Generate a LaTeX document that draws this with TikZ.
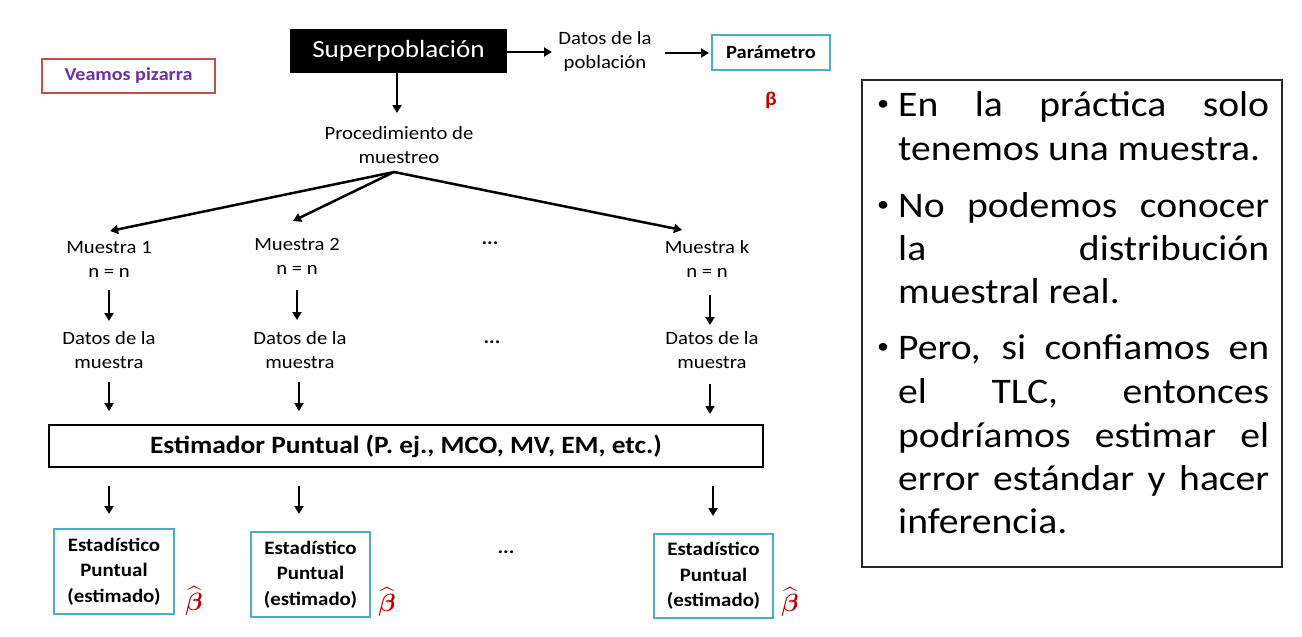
\RequirePackage{fix-cm}
\documentclass[tikz,border=0pt]{standalone}
\usepackage{amsmath}
\usepackage{fontspec}
\setmainfont{Carlito}[FakeStretch=1.1]
\usetikzlibrary{arrows.meta,calc}
\definecolor{cyanb}{HTML}{4BACC6}
\definecolor{redb}{HTML}{C0504D}
\definecolor{purp}{HTML}{7030A0}
\definecolor{redt}{HTML}{C00000}
\begin{document}
\begin{tikzpicture}[x=1pt,y=-1pt,
  arr/.style={line width=2.5pt,-{Triangle[length=8pt,width=9pt]}},
  sm/.style={inner sep=0pt,align=center,font=\fontsize{18.8}{24}\selectfont},
  dts/.style={inner sep=0pt,font=\bfseries\fontsize{19}{24}\selectfont},
  cbox/.style={draw=cyanb,line width=2pt,inner sep=0pt,align=center,font=\bfseries\fontsize{19}{25.5}\selectfont,minimum width=119pt,minimum height=85pt},
  hat/.style={text=redt,inner sep=0pt,font=\fontsize{25}{28}\selectfont},
  rt/.style={anchor=base west,inner sep=0pt,font=\fontsize{36}{43}\selectfont},
  bul/.style={anchor=base west,inner sep=0pt,font=\fontsize{22}{26}\selectfont}]
\fill[white] (0,0) rectangle (1302,637);
\useasboundingbox (0,0) rectangle (1302,637);

% top row
\node[fill=black,minimum width=217pt,minimum height=44pt,inner sep=0pt,text=white,font=\fontsize{24.7}{28}\selectfont] (sup) at (398.5,51) {Superpoblación};
\node[sm] (dpop) at (605,51.5) {\strut Datos de la\\\strut población};
\node[draw=cyanb,line width=2pt,minimum width=118pt,minimum height=35pt,inner sep=0pt,font=\bfseries\fontsize{18.7}{21}\selectfont] (par) at (771,52.5) {Parámetro};
\node[text=redt,inner sep=0pt,font=\bfseries\fontsize{19.5}{21}\selectfont] (bpar) at (771,100) {β};
\node[draw=redb,line width=2pt,minimum width=173pt,minimum height=34pt,inner sep=0pt,text=purp,font=\bfseries\fontsize{18.3}{21}\selectfont] (vea) at (128.5,76) {Veamos pizarra};
\node[sm] (proc) at (399,147) {\strut Procedimiento de\\\strut muestreo};
\coordinate (apex) at (394,172);

\draw[arr] ($(sup.east)+(0,1)$) -- ($(dpop.center)+(-53,0.5)$);
\draw[arr] ($(dpop.center)+(60,1.5)$) -- ($(par.west)+(-2,0.5)$);
\draw[arr] ($(sup.south)+(-1.5,0)$) -- ($(proc.center)+(-2,-34)$);

% samples
\node[sm] (mu1) at (109,260.5) {\strut Muestra 1\\\strut n = n};
\node[sm] (mu2) at (297,257.5) {\strut Muestra 2\\\strut n = n};
\node[dts] (dots1) at (490,243) {...};
\node[sm] (muk) at (707,261) {\strut Muestra k\\\strut n = n};

\draw[arr] (apex) -- ($(mu1.center)+(1,-29.5)$);
\draw[arr] (apex) -- ($(mu2.center)+(-4,-36.5)$);
\draw[arr] (apex) -- ($(muk.center)+(-25,-31)$);

\node[sm] (dm1) at (109,352) {\strut Datos de la\\\strut muestra};
\node[sm] (dm2) at (300,352) {\strut Datos de la\\\strut muestra};
\node[dts] (dots2) at (492,342) {...};
\node[sm] (dmk) at (712,352) {\strut Datos de la\\\strut muestra};

\draw[arr] ($(mu1.center)+(0,29.5)$) -- ($(dm1.center)+(0,-31)$);
\draw[arr] ($(mu2.center)+(0,32.5)$) -- ($(dm2.center)+(-3,-32)$);
\draw[arr] ($(muk.center)+(3,34)$) -- ($(dmk.center)+(-2,-27)$);

\node[draw,line width=2pt,minimum width=714pt,minimum height=42pt,inner sep=0pt,font=\bfseries\fontsize{24.9}{28}\selectfont] (est) at (406,446) {Estimador Puntual (P. ej., MCO, MV, EM, etc.)};

\draw[arr] ($(dm1.center)+(0,30)$) -- ($(dm1.center |- est.north)+(0,-13)$);
\draw[arr] ($(dm2.center)+(-1,30)$) -- ($(dm2.center |- est.north)+(-1,-13)$);
\draw[arr] ($(dmk.center)+(-2,32)$) -- ($(dmk.center |- est.north)+(-2,-10)$);

% estimates
\node[cbox,minimum width=120pt] (box1) at (114,571.5) {\strut Estadístico\\Puntual\\(estimado)\strut};
\node[cbox] (box2) at (310.5,574.5) {\strut Estadístico\\Puntual\\(estimado)\strut};
\node[dts] (dots3) at (506,552) {...};
\node[cbox,minimum height=84pt] (boxk) at (713.5,576) {\strut Estadístico\\Puntual\\(estimado)\strut};

\draw[arr] ($(box1.north |- est.south)+(-5,18)$) -- ($(box1.north)+(-5,-14)$);
\draw[arr] ($(box2.north |- est.south)+(-11.5,18)$) -- ($(box2.north)+(-11.5,-17)$);
\draw[arr] ($(boxk.north |- est.south)+(-0.5,18)$) -- ($(boxk.north)+(-0.5,-17)$);

\node[hat] (h1) at (194,601) {$\widehat{\boldsymbol{\beta}}$};
\node[hat] (h2) at (387,602) {$\widehat{\boldsymbol{\beta}}$};
\node[hat] (hk) at (790,602) {$\widehat{\boldsymbol{\beta}}$};

% right text box
\node[draw=black!85,line width=1.2pt,minimum width=420pt,minimum height=487pt,inner sep=0pt] (rbox) at (1072,323.5) {};
\node[bul] (b1) at (877,110) {•};
\node[bul] (b2) at (877,211) {•};
\node[bul] (b3) at (877,353) {•};
\node[rt] (r1) at (898,116) {\makebox[371pt][s]{En la práctica solo}};
\node[rt] (r2) at (898,160) {tenemos una muestra.};
\node[rt] (r3) at (898,217) {\makebox[371pt][s]{No podemos conocer}};
\node[rt] (r4) at (898,260) {\makebox[371pt][s]{la distribución}};
\node[rt] (r5) at (898,303) {muestral real.};
\node[rt] (r6) at (898,359) {\makebox[371pt][s]{Pero, si confiamos en}};
\node[rt] (r7) at (898,403) {\makebox[371pt][s]{el TLC, entonces}};
\node[rt] (r8) at (898,447) {\makebox[371pt][s]{podríamos estimar el}};
\node[rt] (r9) at (898,490) {\makebox[371pt][s]{error estándar y hacer}};
\node[rt] (r10) at (898,533) {inferencia.};
\end{tikzpicture}
\end{document}
